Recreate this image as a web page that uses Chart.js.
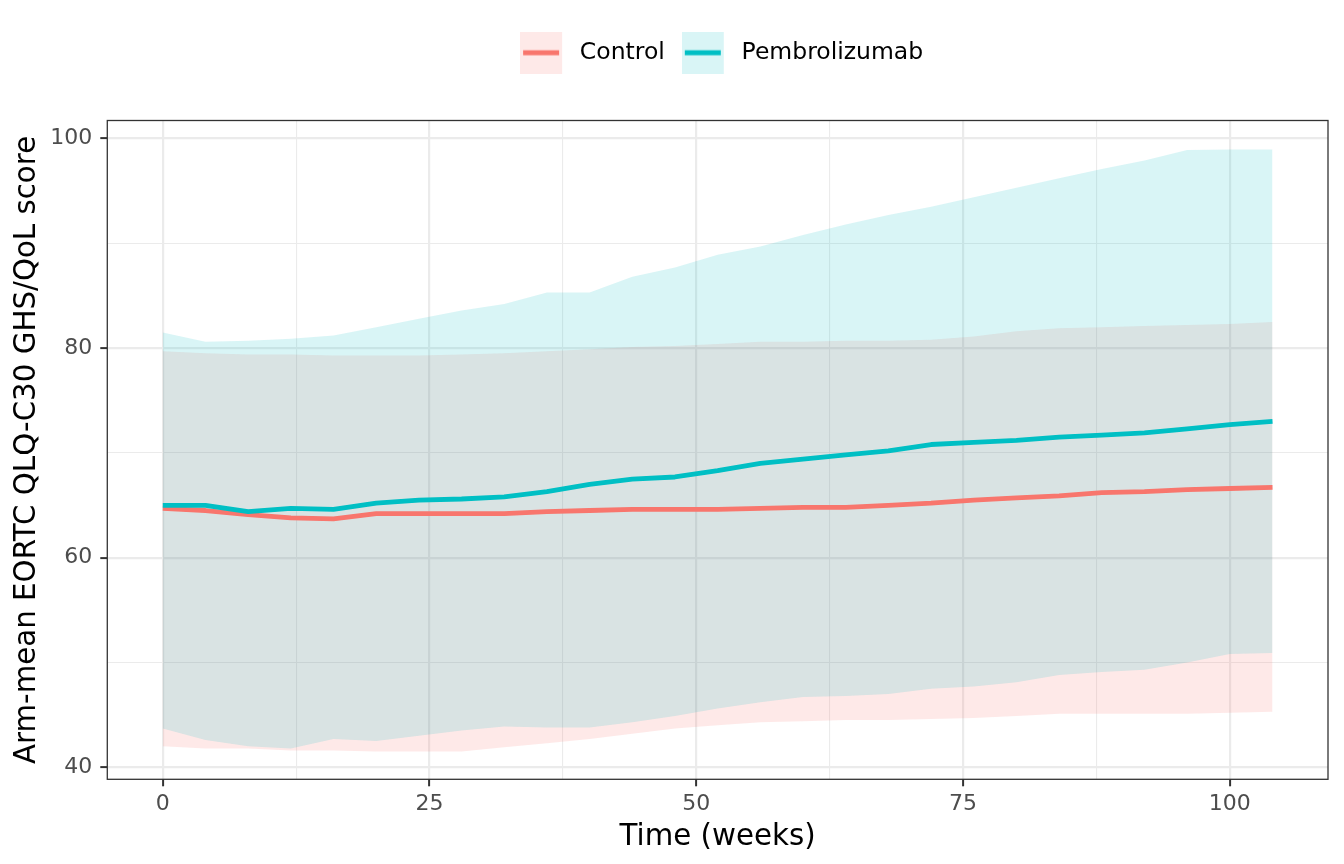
<!DOCTYPE html>
<html>
<head>
<meta charset="utf-8">
<title>Arm-mean EORTC QLQ-C30 GHS/QoL score</title>
<script src="https://cdn.jsdelivr.net/npm/chart.js@4.4.1/dist/chart.umd.min.js"></script>
<style>
  html, body { margin: 0; padding: 0; background: #fff; }
  #wrap { width: 1344px; height: 864px; }
</style>
</head>
<body>
<div id="wrap"><canvas id="qolChart"></canvas></div>
<script>
// weeks of assessment
const weeks = [0, 4, 8, 12, 16, 20, 24, 28, 32, 36, 40, 44, 48, 52, 56,
               60, 64, 68, 72, 76, 80, 84, 88, 92, 96, 100, 104];

// arm means
const controlMean = [64.7, 64.5, 64.1, 63.8, 63.7, 64.2, 64.2, 64.2, 64.2, 64.4, 64.5, 64.6, 64.6, 64.6,
                     64.7, 64.8, 64.8, 65.0, 65.2, 65.5, 65.7, 65.9, 66.2, 66.3, 66.5, 66.6, 66.7];
const pembroMean = [65.0, 65.0, 64.4, 64.7, 64.6, 65.2, 65.5, 65.6, 65.8, 66.3, 67.0, 67.5, 67.7, 68.3,
                    69.0, 69.4, 69.8, 70.2, 70.8, 71.0, 71.2, 71.5, 71.7, 71.9, 72.3, 72.7, 73.0];

// band limits
const controlUpper = [79.7, 79.5, 79.4, 79.4, 79.3, 79.3, 79.3, 79.4, 79.5, 79.7, 79.9, 80.1, 80.2, 80.4,
                      80.6, 80.6, 80.7, 80.7, 80.8, 81.1, 81.6, 81.9, 82.0, 82.1, 82.2, 82.3, 82.5];
const controlLower = [42.0, 41.8, 41.8, 41.6, 41.6, 41.5, 41.5, 41.5, 41.9, 42.3, 42.7, 43.2, 43.7, 44.0,
                      44.3, 44.4, 44.5, 44.5, 44.6, 44.7, 44.9, 45.1, 45.1, 45.1, 45.1, 45.2, 45.3];
const pembroUpper = [81.5, 80.6, 80.7, 80.9, 81.2, 82.0, 82.8, 83.6, 84.2, 85.3, 85.3, 86.8, 87.7, 88.9,
                     89.7, 90.8, 91.8, 92.7, 93.5, 94.4, 95.3, 96.2, 97.1, 97.9, 98.9, 98.95, 98.95];
const pembroLower = [43.7, 42.6, 42.0, 41.8, 42.7, 42.5, 43.0, 43.5, 43.9, 43.8, 43.8, 44.3, 44.9, 45.6,
                     46.2, 46.7, 46.8, 47.0, 47.5, 47.7, 48.1, 48.8, 49.1, 49.3, 50.0, 50.8, 50.9];

// axis ticks (major get labels, the rest are minor grid lines)
const xTickValues = [0, 12.5, 25, 37.5, 50, 62.5, 75, 87.5, 100];
const xTickLabels = [0, 25, 50, 75, 100];
const yTickValues = [40, 50, 60, 70, 80, 90, 100];
const yTickLabels = [40, 60, 80, 100];

const CONTROL = '#F8766D';
const CONTROL_BAND = 'rgba(248, 118, 109, 0.16)';
const PEMBRO = '#00BFC4';
const PEMBRO_BAND = 'rgba(0, 191, 196, 0.15)';

Chart.defaults.font.family = '"DejaVu Sans", sans-serif';
Chart.defaults.animation = false;

function points(values) {
    return weeks.map((w, i) => ({ x: w, y: values[i] }));
}

function legendKey(fill, stroke) {
    const c = document.createElement('canvas');
    c.width = 48;
    c.height = 42;
    const g = c.getContext('2d');
    g.fillStyle = fill;
    g.fillRect(0, 0, 42, 42);
    g.strokeStyle = stroke;
    g.lineWidth = 5;
    g.beginPath();
    g.moveTo(3, 21);
    g.lineTo(39, 21);
    g.stroke();
    return c;
}

const bandStyle = { pointRadius: 0, borderWidth: 0, tension: 0 };
const lineStyle = { pointRadius: 0, borderWidth: 4.8, tension: 0, fill: false,
                    borderJoinStyle: 'round' };

// frame around the panel, legend spacing and centring over the panel
const panelFrame = {
    id: 'panelFrame',
    beforeInit(chart) {
        if (!chart.legend) return;
        const fit = chart.legend.fit;
        chart.legend.fit = function () {
            fit.call(this);
            this.height += 46;
        };
    },
    afterLayout(chart) {
        if (!chart.legend) return;
        chart.legend.left = chart.chartArea.left + 4;
        chart.legend.right = chart.chartArea.right + 4;
    },
    afterDatasetsDraw(chart) {
        const { ctx, chartArea: a } = chart;
        ctx.save();
        ctx.strokeStyle = '#333333';
        ctx.lineWidth = 1.3;
        ctx.strokeRect(a.left, a.top, a.right - a.left, a.bottom - a.top);
        ctx.restore();
    }
};

const isMajor = (ctx, labels) => ctx.tick && labels.includes(ctx.tick.value);

new Chart(document.getElementById('qolChart'), {
    type: 'line',
    data: {
        datasets: [
            { label: 'Pembrolizumab', data: points(pembroMean), borderColor: PEMBRO, ...lineStyle },
            { label: 'Control', data: points(controlMean), borderColor: CONTROL, ...lineStyle },
            { label: 'Pembrolizumab upper', data: points(pembroUpper), backgroundColor: PEMBRO_BAND,
              fill: '+1', ...bandStyle },
            { label: 'Pembrolizumab lower', data: points(pembroLower), fill: false, ...bandStyle },
            { label: 'Control upper', data: points(controlUpper), backgroundColor: CONTROL_BAND,
              fill: '+1', ...bandStyle },
            { label: 'Control lower', data: points(controlLower), fill: false, ...bandStyle }
        ]
    },
    options: {
        responsive: true,
        maintainAspectRatio: false,
        layout: { padding: { top: 24, right: 16, bottom: 12, left: 13 } },
        plugins: {
            tooltip: { enabled: false },
            legend: {
                position: 'top',
                align: 'center',
                onClick: null,
                labels: {
                    usePointStyle: true,
                    pointStyleWidth: 48,
                    padding: 17,
                    color: '#000',
                    font: { size: 23.5 },
                    generateLabels: () => [
                        { text: 'Control', pointStyle: legendKey(CONTROL_BAND, CONTROL),
                          fillStyle: CONTROL_BAND, strokeStyle: CONTROL, lineWidth: 0,
                          datasetIndex: 1, hidden: false, fontColor: '#000' },
                        { text: 'Pembrolizumab', pointStyle: legendKey(PEMBRO_BAND, PEMBRO),
                          fillStyle: PEMBRO_BAND, strokeStyle: PEMBRO, lineWidth: 0,
                          datasetIndex: 0, hidden: false, fontColor: '#000' }
                    ]
                }
            }
        },
        scales: {
            x: {
                type: 'linear',
                min: -5.2,
                max: 109.2,
                afterBuildTicks: axis => { axis.ticks = xTickValues.map(v => ({ value: v })); },
                ticks: {
                    autoSkip: false,
                    maxRotation: 0,
                    padding: 5,
                    color: '#4d4d4d',
                    font: { size: 22 },
                    callback: v => xTickLabels.includes(v) ? String(v) : ''
                },
                grid: {
                    color: '#ebebeb',
                    lineWidth: ctx => isMajor(ctx, xTickLabels) ? 2.2 : 1.1,
                    tickLength: 7,
                    tickWidth: 2,
                    tickColor: ctx => isMajor(ctx, xTickLabels) ? '#333333' : 'rgba(0,0,0,0)'
                },
                border: { display: false },
                title: {
                    display: true,
                    text: 'Time (weeks)',
                    color: '#000',
                    font: { size: 29.3, lineHeight: 1.0 },
                    padding: { top: 0, bottom: 0 }
                }
            },
            y: {
                type: 'linear',
                min: 38.85,
                max: 101.72,
                afterBuildTicks: axis => { axis.ticks = yTickValues.map(v => ({ value: v })); },
                ticks: {
                    autoSkip: false,
                    padding: 8,
                    color: '#4d4d4d',
                    font: { size: 22 },
                    callback: v => yTickLabels.includes(v) ? String(v) : ''
                },
                grid: {
                    color: '#ebebeb',
                    lineWidth: ctx => isMajor(ctx, yTickLabels) ? 2.2 : 1.1,
                    tickLength: 7,
                    tickWidth: 2,
                    tickColor: ctx => isMajor(ctx, yTickLabels) ? '#333333' : 'rgba(0,0,0,0)'
                },
                border: { display: false },
                title: {
                    display: true,
                    text: 'Arm-mean EORTC QLQ-C30 GHS/QoL score',
                    color: '#000',
                    font: { size: 29.3, lineHeight: 1.0 },
                    padding: { top: 0, bottom: 0 }
                }
            }
        }
    },
    plugins: [panelFrame]
});
</script>
</body>
</html>
